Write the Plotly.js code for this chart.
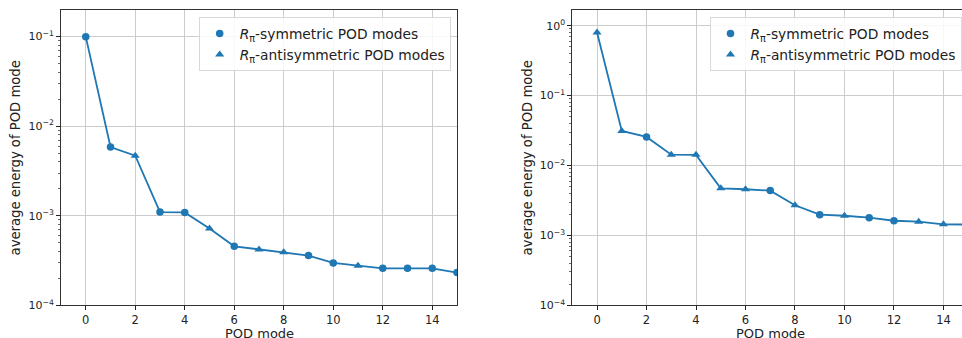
<!DOCTYPE html>
<html>
<head>
<meta charset="utf-8">
<script src="https://cdn.plot.ly/plotly-3.0.1.min.js"></script>
<style>html,body{margin:0;padding:0;background:#fff}#chart{width:962px;height:338px}</style>
</head>
<body>
<div id="chart"></div>
<script>
// ---- data ----
const modesLeft = [0,1,2,3,4,5,6,7,8,9,10,11,12,13,14,15];
const energyLeft = [0.1, 0.00585, 0.00468, 0.00110, 0.00109, 0.00072, 0.000456, 0.000419, 0.000391, 0.000359, 0.000297, 0.000277, 0.000259, 0.000259, 0.000259, 0.000232];
const classLeft = ['s','s','a','s','s','a','s','a','a','s','s','a','s','s','s','s'];

const modesRight = [0,1,2,3,4,5,6,7,8,9,10,11,12,13,14,15];
const energyRight = [0.80, 0.0312, 0.0256, 0.0143, 0.0142, 0.00472, 0.00457, 0.00437, 0.0027, 0.00198, 0.00191, 0.00179, 0.00162, 0.00157, 0.00144, 0.00143];
const classRight = ['a','a','s','a','a','a','a','s','a','s','a','s','s','a','a','s'];

const legendSym = '<i>R</i><sub>π</sub>-symmetric POD modes';
const legendAnti = '<i>R</i><sub>π</sub>-antisymmetric POD modes';
const xTitle = 'POD mode';
const yTitle = 'average energy of POD mode';

const yTickValsLeft = [1e-4, 1e-3, 1e-2, 1e-1];
const yTickTextLeft = ['10<sup>−4</sup>','10<sup>−3</sup>','10<sup>−2</sup>','10<sup>−1</sup>'];
const yTickValsRight = [1e-4, 1e-3, 1e-2, 1e-1, 1];
const yTickTextRight = ['10<sup>−4</sup>','10<sup>−3</sup>','10<sup>−2</sup>','10<sup>−1</sup>','10<sup>0</sup>'];

// ---- styling ----
const C = '#1f77b4';
const FONT = 'DejaVu Sans, sans-serif';
const TXT = '#222';

function pick(xs, ys, cls, c) {
  const x = [], y = [];
  xs.forEach((v, i) => { if (cls[i] === c) { x.push(v); y.push(ys[i]); } });
  return {x, y};
}

function panelTraces(xs, ys, cls, xa, ya, leg) {
  const s = pick(xs, ys, cls, 's');
  const a = pick(xs, ys, cls, 'a');
  return [
    {x: xs, y: ys, xaxis: xa, yaxis: ya, mode: 'lines', line: {color: C, width: 1.8},
     showlegend: false, hoverinfo: 'skip'},
    {x: s.x, y: s.y, xaxis: xa, yaxis: ya, mode: 'markers', name: legendSym, legend: leg,
     marker: {symbol: 'circle', size: 7.5, color: C}},
    {x: a.x, y: a.y, xaxis: xa, yaxis: ya, mode: 'markers', name: legendAnti, legend: leg,
     marker: {symbol: 'triangle-up', size: 8, color: C}}
  ];
}

const data = [].concat(
  panelTraces(modesLeft, energyLeft, classLeft, 'x', 'y', 'legend'),
  panelTraces(modesRight, energyRight, classRight, 'x2', 'y2', 'legend2')
);

const W = 962, H = 338;
const yDom = [1 - 305.3 / H, 1 - 10.3 / H];
const domL = [61 / W, 457 / W];
const domR = [572.3 / W, 1];

function xAxis(domain, range, anchor) {
  return {
    domain: domain, range: range, anchor: anchor,
    tickmode: 'linear', tick0: 0, dtick: 2,
    ticks: 'outside', ticklen: 4, tickwidth: 1, tickcolor: '#222',
    showline: true, linecolor: '#333', linewidth: 1, mirror: true,
    showgrid: true, gridcolor: '#cccccc', gridwidth: 1, zeroline: false,
    tickfont: {family: FONT, size: 11.5, color: TXT},
    automargin: false
  };
}

function yAxis(range, anchor, tv, tt, mirror) {
  return {
    domain: yDom, type: 'log', range: range, anchor: anchor,
    tickmode: 'array', tickvals: tv, ticktext: tt,
    ticks: 'outside', ticklen: 4, tickwidth: 1, tickcolor: '#222',
    minor: {ticks: 'outside', ticklen: 2, tickwidth: 0.8, tickcolor: '#444', dtick: 'D1', showgrid: false},
    showline: true, linecolor: '#333', linewidth: 1, mirror: mirror,
    showgrid: true, gridcolor: '#cccccc', gridwidth: 1, zeroline: false,
    tickfont: {family: FONT, size: 11, color: TXT},
    title: {text: yTitle, font: {family: FONT, size: 13.2, color: TXT}, standoff: 4},
    automargin: false
  };
}

const legendStyle = {
  bgcolor: 'rgba(255,255,255,0.85)', bordercolor: '#d8d8d8', borderwidth: 1,
  font: {family: FONT, size: 13.8, color: TXT},
  xanchor: 'right', yanchor: 'top', tracegroupgap: 0
};

function xTitleAnn(xCenterPx) {
  return {
    text: xTitle, xref: 'paper', yref: 'paper', x: xCenterPx / W, y: (H - 333) / H,
    xanchor: 'center', yanchor: 'middle', showarrow: false,
    font: {family: FONT, size: 13, color: TXT}
  };
}

const layout = {
  width: W, height: H,
  margin: {l: 0, r: 0, t: 0, b: 0},
  paper_bgcolor: '#fff', plot_bgcolor: '#fff',
  font: {family: FONT, color: TXT},
  xaxis: xAxis(domL, [-1, 15], 'y'),
  yaxis: yAxis([-4, -0.706], 'x', yTickValsLeft, yTickTextLeft, true),
  xaxis2: xAxis(domR, [-1, 14.75], 'y2'),
  yaxis2: yAxis([-4, 0.22], 'x2', yTickValsRight, yTickTextRight, false),
  legend: Object.assign({x: 450.7 / W, y: 1 - 17 / H}, legendStyle),
  legend2: Object.assign({x: 961.5 / W, y: 1 - 17 / H}, legendStyle),
  annotations: [xTitleAnn(259), xTitleAnn(770)],
  showlegend: true
};

Plotly.newPlot('chart', data, layout, {displayModeBar: false, staticPlot: true});
</script>
</body>
</html>
